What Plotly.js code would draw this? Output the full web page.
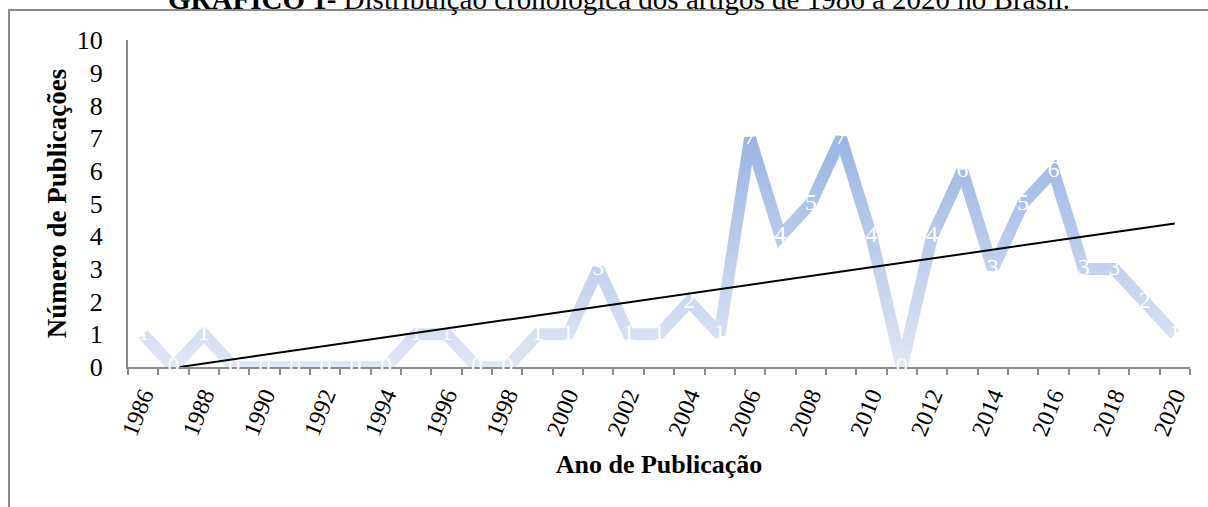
<!DOCTYPE html>
<html>
<head>
<meta charset="utf-8">
<script src="https://cdn.plot.ly/plotly-3.0.1.min.js"></script>
<style>
html,body{margin:0;padding:0;background:#fff;}
#wrap{position:relative;width:1208px;height:507px;overflow:hidden;}
#chart{position:absolute;left:0;top:0;width:1208px;height:507px;}
#frame{position:absolute;left:8px;top:9px;width:1300px;height:600px;border:2px solid #8c8c8c;box-sizing:border-box;pointer-events:none;}
</style>
</head>
<body>
<div id="wrap">
<div id="frame"></div>
<div id="chart"></div>
</div>
<script>
// Data
var years = [1986,1987,1988,1989,1990,1991,1992,1993,1994,1995,1996,1997,1998,1999,2000,2001,2002,2003,2004,2005,2006,2007,2008,2009,2010,2011,2012,2013,2014,2015,2016,2017,2018,2019,2020];
var publicacoes = [1,0,1,0,0,0,0,0,0,1,1,0,0,1,1,3,1,1,2,1,7,4,5,7,4,0,4,6,3,5,6,3,3,2,1];
var tickYears = [1986,1988,1990,1992,1994,1996,1998,2000,2002,2004,2006,2008,2010,2012,2014,2016,2018,2020];
var tickLabels = tickYears.map(String);
var titleText = '<b>GRÁFICO 1-</b> Distribuição cronológica dos artigos de 1986 a 2020 no Brasil.';
var xTitle = 'Ano de Publicação';
var yTitle = 'Número de Publicações';

// Linear trend (least squares on category index 1..n), as Excel does
var n = publicacoes.length;
var sx=0, sy=0, sxy=0, sxx=0;
for (var i=0;i<n;i++){ var xi=i+1; sx+=xi; sy+=publicacoes[i]; sxy+=xi*publicacoes[i]; sxx+=xi*xi; }
var slope = (n*sxy - sx*sy)/(n*sxx - sx*sx);
var intercept = (sy - slope*sx)/n;
var idx0 = -intercept/slope; // where trend crosses 0
var trendX = [years[0] + (idx0-1), years[n-1]];
var trendY = [0, intercept + slope*n];

var serif = 'Liberation Serif, Times New Roman, serif';

var traces = [
  {
    x: years, y: publicacoes, type:'scatter', mode:'lines+text',
    text: publicacoes.map(String), textposition:'middle center',
    textfont:{family:serif, size:24, color:'#ffffff'},
    line:{color:'#bccdec', width:12},
    cliponaxis:false, hoverinfo:'skip', showlegend:false
  },
  {
    x: trendX, y: trendY, type:'scatter', mode:'lines',
    line:{color:'#000000', width:2},
    cliponaxis:false, hoverinfo:'skip', showlegend:false
  }
];

var layout = {
  width:1208, height:507,
  margin:{l:128, r:18, t:40, b:140},
  paper_bgcolor:'rgba(0,0,0,0)', plot_bgcolor:'rgba(0,0,0,0)',
  font:{family:serif, color:'#000000'},
  showlegend:false,
  annotations:[{
    text:titleText, xref:'paper', yref:'paper', x:0.462, y:(367+1)/327, xanchor:'center', yanchor:'middle',
    showarrow:false, font:{family:serif, size:29, color:'#000'}
  }],
  xaxis:{
    range:[1985.5, 2020.5], autorange:false,
    tickmode:'array', tickvals:tickYears, ticktext:tickLabels,
    ticks:'', tickangle:-68, tickfont:{family:serif, size:24, color:'#000'},
    ticklabelstandoff:3,
    showgrid:false, zeroline:false,
    showline:true, linecolor:'#8c8c8c', linewidth:2,
    layer:'below traces',
    minor:{ticks:'outside', tick0:1985.5, dtick:1, ticklen:6, tickcolor:'#8c8c8c', tickwidth:2, showgrid:false},
    title:{text:'<b>'+xTitle+'</b>', font:{family:serif, size:26, color:'#000'}, standoff:16}
  },
  yaxis:{
    range:[0,10], autorange:false, dtick:1, tick0:0,
    ticks:'', tickfont:{family:serif, size:26, color:'#000'},
    ticklabelstandoff:18,
    showgrid:false, zeroline:false,
    showline:true, linecolor:'#8c8c8c', linewidth:2,
    layer:'below traces',
    title:{text:'<b>'+yTitle+'</b>', font:{family:serif, size:27, color:'#000'}, standoff:2}
  }
};

Plotly.newPlot('chart', traces, layout, {displayModeBar:false, staticPlot:true}).then(function(gd){
  // vertical gradient on the data line, like the reference (darker at the top)
  var svg = gd.querySelector('svg.main-svg');
  var defs = svg.querySelector('defs');
  var ns = 'http://www.w3.org/2000/svg';
  var g = document.createElementNS(ns,'linearGradient');
  g.setAttribute('id','lineGrad');
  g.setAttribute('x1','0'); g.setAttribute('y1','0');
  g.setAttribute('x2','0'); g.setAttribute('y2','1');
  var s1 = document.createElementNS(ns,'stop'); s1.setAttribute('offset','0'); s1.setAttribute('stop-color','#9bb4e3');
  var s2 = document.createElementNS(ns,'stop'); s2.setAttribute('offset','1'); s2.setAttribute('stop-color','#dfe7f5');
  g.appendChild(s1); g.appendChild(s2); defs.appendChild(g);
  var path = gd.querySelector('.scatterlayer .trace .js-line');
  if (path) { path.style.stroke = 'url(#lineGrad)'; path.style.strokeLinejoin='miter'; path.style.strokeLinecap='butt'; }
});
</script>
</body>
</html>
